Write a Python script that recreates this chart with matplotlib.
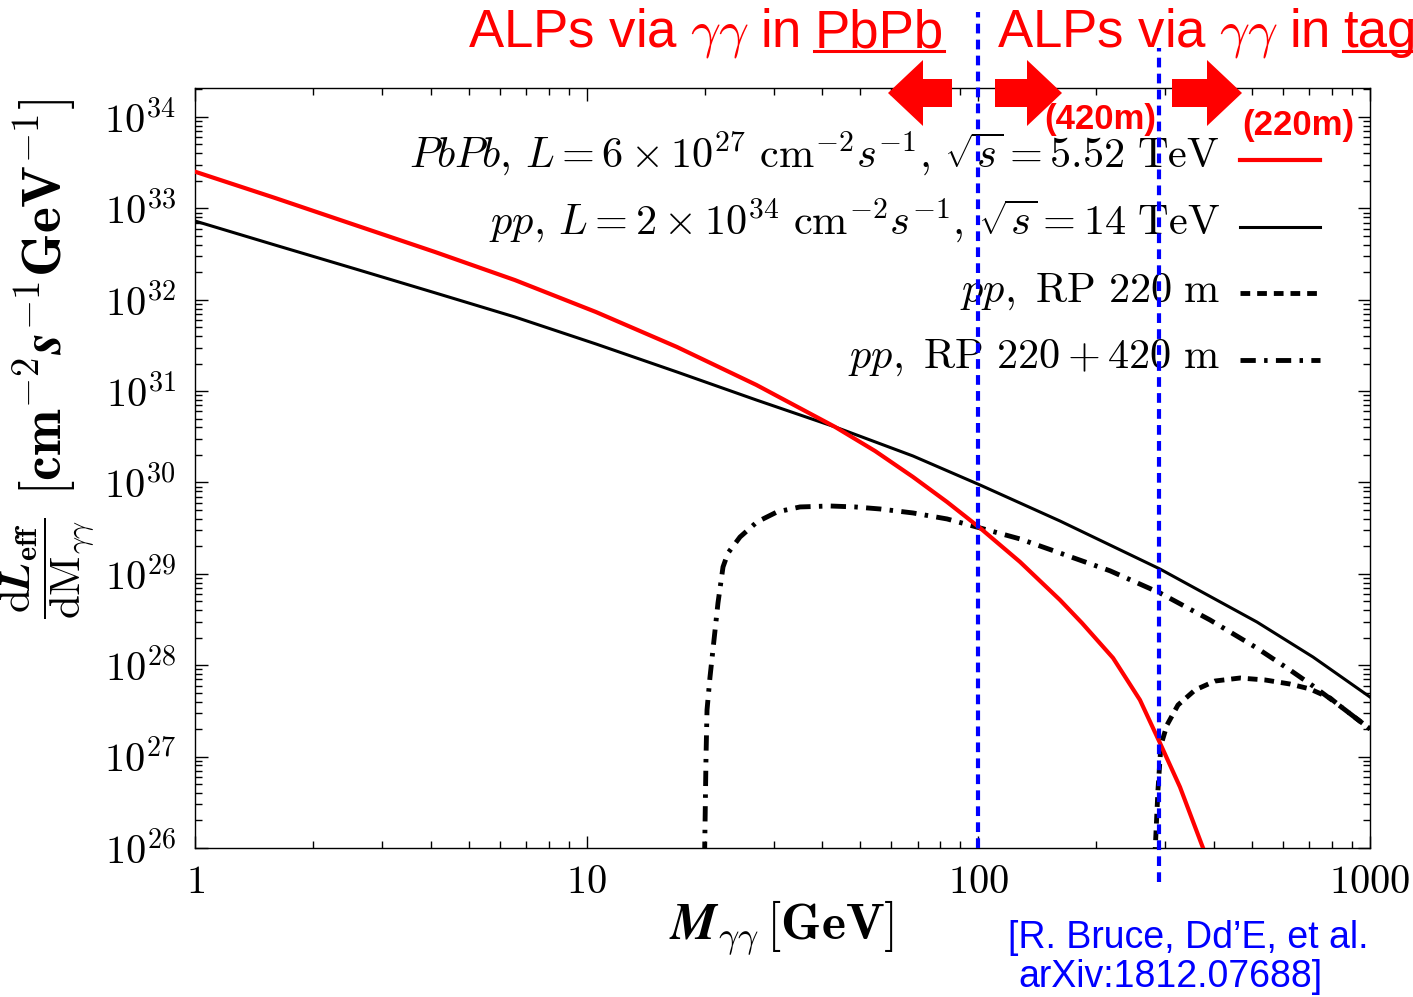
import numpy as np
import matplotlib
matplotlib.use("Agg")
import matplotlib.pyplot as plt
import matplotlib.patches as mp
from matplotlib import ticker
from matplotlib.lines import Line2D

plt.rcParams['mathtext.fontset'] = 'cm'
plt.rcParams['lines.scale_dashes'] = False

W, H = 1413, 997

# PbPb, sqrt(s) = 5.52 TeV
M_PBPB = [1, 1.60, 2.56, 4.10, 6.56, 10.56, 17.0, 27.1, 43.1, 54.5, 68.1, 83.2, 101,
          127.8, 161.6, 183.9, 220.8, 258.6, 290.9, 327.2, 374.7, 402.2]
L_PBPB = [2.52e33, 1.30e33, 6.58e32, 3.33e32, 1.64e32, 7.34e31, 3.04e31, 1.17e31,
          4.05e30, 2.21e30, 1.15e30, 6.12e29, 3.18e29, 1.35e29, 5.18e28, 2.90e28,
          1.20e28, 4.17e27, 1.41e27, 4.65e26, 1.0e26, 4.47e25]

# pp, sqrt(s) = 14 TeV
M_PP = [1, 1.60, 2.56, 4.10, 6.56, 10.56, 17.0, 27.1, 43.1, 68.1, 101, 161.6, 290.9,
        514.6, 715.4, 1000]
L_PP = [7.27e32, 3.97e32, 2.18e32, 1.19e32, 6.47e31, 3.28e31, 1.62e31, 8.0e30,
        4.05e30, 1.95e30, 9.39e29, 3.79e29, 1.13e29, 2.97e28, 1.23e28, 4.49e27]

# pp, RP 220 + 420 m
M_RP420 = [20.0, 20.17, 20.29, 20.65, 21.14, 21.64, 22.29, 22.95, 24.63, 27.22, 30.62,
           35.05, 41.81, 48.43, 56.1, 68.1, 83.2, 101, 127.8, 161.6, 216.9, 290.9,
           390.4, 514.6, 624.8, 715.4, 838.3, 1000]
L_RP420 = [8e25, 9.9e26, 3.24e27, 7.44e27, 1.89e28, 4.80e28, 1.19e29, 1.69e29, 2.53e29,
           3.70e29, 4.76e29, 5.40e29, 5.53e29, 5.40e29, 5.13e29, 4.64e29, 3.99e29,
           3.18e29, 2.41e29, 1.69e29, 1.08e29, 6.18e28, 3.13e28, 1.54e28, 8.87e27,
           5.93e27, 3.58e27, 2.01e27]

# pp, RP 220 m
M_RP220 = [282.3, 287.5, 292.6, 303.2, 323.4, 357.5, 402.2, 465.8, 539.6, 624.8, 702.8,
           790.7, 838.3, 1000]
L_RP220 = [8e25, 4.31e26, 1.34e27, 2.22e27, 3.67e27, 5.36e27, 6.72e27, 7.25e27, 6.90e27,
           6.23e27, 5.50e27, 4.38e27, 3.58e27, 2.01e27]

VLINES = [100, 290]

LABELS = [r"$PbPb,\, L = 6\times10^{27}\ \mathrm{cm}^{-2}s^{-1},\, \sqrt{s} = 5.52\ \mathrm{TeV}$",
          r"$pp,\, L = 2\times10^{34}\ \mathrm{cm}^{-2}s^{-1},\, \sqrt{s} = 14\ \mathrm{TeV}$",
          r"$pp,\ \mathrm{RP}\ 220\ \mathrm{m}$",
          r"$pp,\ \mathrm{RP}\ 220 + 420\ \mathrm{m}$"]


def fx(px):
    return px / W


def fy(py):
    return 1 - py / H


fig = plt.figure(figsize=(W / 100, H / 100), dpi=100)
ax = fig.add_axes([fx(195), fy(848), fx(1370) - fx(195), fy(88) - fy(848)])

DASHDOT = (0, (11, 6, 2.5, 6))
DASHED = (0, (7, 5))
STYLES = [('#ff0000', 3.0, '-'), ('black', 2.2, '-'),
          ('black', 3.5, DASHED), ('black', 3.5, DASHDOT)]

series = [(M_PBPB, L_PBPB, 4), (M_PP, L_PP, 3), (M_RP220, L_RP220, 3), (M_RP420, L_RP420, 3)]
for (m, l, z), (c, lw, ls) in zip(series, STYLES):
    ax.plot(m, l, color=c, lw=lw, ls=ls, zorder=z)

ax.set_xscale('log')
ax.set_yscale('log')
ax.set_xlim(1, 1000)
ax.set_ylim(1e26, 10 ** 34.317)

ax.set_xticks([1, 10, 100, 1000])
ax.xaxis.set_major_formatter(ticker.FuncFormatter(lambda v, p: r"$%d$" % round(v)))
ax.yaxis.set_major_locator(ticker.LogLocator(base=10, numticks=20))
ax.yaxis.set_major_formatter(ticker.FuncFormatter(lambda v, p: r"$10^{%d}$" % round(np.log10(v))))
for a in (ax.xaxis, ax.yaxis):
    a.set_minor_locator(ticker.LogLocator(base=10, subs=np.arange(2, 10), numticks=100))
    a.set_minor_formatter(ticker.NullFormatter())
ax.tick_params(which='both', direction='in', top=True, right=True, width=1.0)
ax.tick_params(which='major', length=9, labelsize=29)
ax.tick_params(which='minor', length=5)
ax.tick_params(axis='x', pad=10)
ax.tick_params(axis='y', pad=14)
for s in ax.spines.values():
    s.set_linewidth(1.0)

# vertical markers, running past the frame
ax.axvline(VLINES[0], ymin=0, ymax=1.1, color='#0000ff', lw=3, ls=(0, (7, 4.5)),
           clip_on=False, zorder=6)
ax.axvline(VLINES[1], ymin=-0.045, ymax=1.053, color='#0000ff', lw=3, ls=(0, (7, 4.5)),
           clip_on=False, zorder=6)

# legend drawn by hand, text right aligned
rows_txt = [168, 235, 302, 368]
rows_line = [160, 227, 293, 360]
for lab, (c, lw, ls), yt, yl in zip(LABELS, STYLES, rows_txt, rows_line):
    ax.text((1220 - 195) / 1175, (848 - yt) / 760, lab, transform=ax.transAxes,
            ha='right', va='baseline', fontsize=30.5, zorder=5)
    ya = (848 - yl) / 760
    ax.add_line(Line2D([(1240 - 195) / 1175, (1320 - 195) / 1175], [ya, ya],
                       transform=ax.transAxes, color=c, lw=lw, ls=ls, clip_on=False))

# axis labels
fig.text(fx(45), fy(297), r"$\mathbf{[cm^{-2}}\boldsymbol{s}^{\mathbf{-1}}\mathbf{GeV^{-1}]}$",
         rotation=90, ha='center', va='center', fontsize=40)
fig.text(fx(47), fy(568),
         r"$\dfrac{\mathrm{d}\boldsymbol{L}_{\mathbf{eff}}}{\mathrm{dM}_{\gamma\gamma}}$",
         rotation=90, ha='center', va='center', fontsize=31)
fig.text(fx(781), fy(928), r"$\boldsymbol{M}_{\gamma\gamma}\,\mathbf{[GeV]}$",
         ha='center', va='center', fontsize=37)

# headline texts with underlined words
renderer = fig.canvas.get_renderer()
for x0, word in [(468, "PbPb"), (997, "tag")]:
    t1 = fig.text(fx(x0), fy(47), r"ALPs via $\gamma\gamma$ in", color='#ff0000',
                  family='Liberation Sans', fontsize=38, ha='left', va='baseline')
    bb = t1.get_window_extent(renderer)
    xw = bb.x1 + 0.278 * 38 * 100 / 72
    t2 = fig.text(xw / W, fy(47), word, color='#ff0000', family='Liberation Sans',
                  fontsize=38, ha='left', va='baseline')
    bb2 = t2.get_window_extent(renderer)
    fig.add_artist(Line2D([bb2.x0 / W, bb2.x1 / W], [fy(51), fy(51)],
                          transform=fig.transFigure, color='#ff0000', lw=2.2))

# red block arrows (inch coordinates keep them undistorted)
for xt, xh in [(952, 888), (995, 1062), (1172, 1242)]:
    fig.add_artist(mp.FancyArrow(xt / 100, (H - 93) / 100, (xh - xt) / 100, 0,
                                 width=0.28, head_width=0.66, head_length=0.35,
                                 length_includes_head=True, color='#ff0000', lw=0,
                                 transform=fig.dpi_scale_trans))
fig.text(fx(1100), fy(120), "(420m)", color='#ff0000', family='Liberation Sans',
         weight='bold', fontsize=25, ha='center', va='center')
fig.text(fx(1298), fy(126), "(220m)", color='#ff0000', family='Liberation Sans',
         weight='bold', fontsize=25, ha='center', va='center')

fig.text(fx(1008), fy(938), "[R. Bruce, Dd\u2019E, et al.", color='#0000ff',
         family='Liberation Sans', fontsize=27, ha='left', va='center')
fig.text(fx(1018), fy(977), "arXiv:1812.07688]", color='#0000ff',
         family='Liberation Sans', fontsize=27, ha='left', va='center')

fig.savefig("out.png", dpi=100)
